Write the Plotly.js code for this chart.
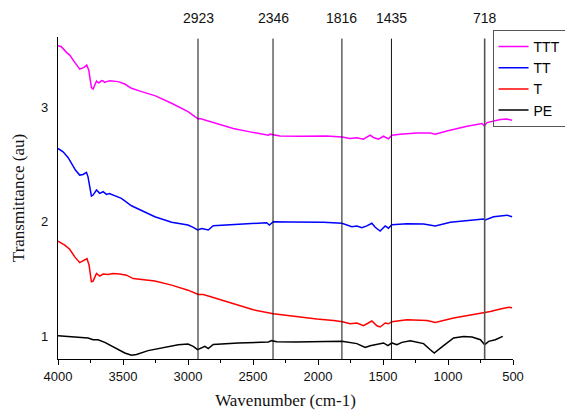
<!DOCTYPE html>
<html>
<head>
<meta charset="utf-8">
<script src="https://cdn.plot.ly/plotly-3.0.1.min.js"></script>
<style>html,body{margin:0;padding:0;background:#fff;}#chart{width:565px;height:410px;}</style>
</head>
<body>
<div id="chart"></div>
<script>
// Wavenumber (cm-1) and transmittance (au)
const wnTTT = [4000,3974,3935,3910,3871,3833,3800,3779,3763,3743,3730,3704,3690,3679,3665,3653,3640,3627,3600,3589,3538,3486,3435,3357,3255,3126,3000,2947,2921,2908,2883,2831,2652,2523,2382,2369,2344,2292,2138,1932,1816,1753,1701,1650,1599,1573,1535,1496,1458,1432,1368,1239,1136,1098,1008,854,738,720,700,597,546,507];
const TTT = [3.534,3.525,3.476,3.452,3.389,3.330,3.345,3.365,3.32,3.169,3.157,3.226,3.21,3.215,3.23,3.226,3.214,3.221,3.228,3.226,3.221,3.2,3.163,3.134,3.099,3.032,2.96,2.916,2.896,2.899,2.890,2.87,2.812,2.783,2.754,2.763,2.760,2.748,2.745,2.748,2.739,2.725,2.731,2.719,2.754,2.734,2.719,2.745,2.722,2.754,2.763,2.774,2.774,2.763,2.791,2.832,2.856,2.835,2.864,2.89,2.896,2.884];

const wnTT = [4000,3961,3923,3897,3866,3833,3807,3781,3769,3743,3730,3704,3679,3653,3640,3627,3605,3589,3550,3512,3435,3357,3255,3126,3000,2960,2926,2895,2870,2844,2806,2600,2395,2374,2344,2215,1958,1816,1740,1701,1663,1624,1586,1560,1522,1483,1458,1432,1316,1188,1098,982,854,726,713,649,546,507];
const TT = [2.638,2.609,2.56,2.508,2.45,2.406,2.412,2.43,2.391,2.223,2.232,2.276,2.247,2.261,2.245,2.238,2.245,2.238,2.223,2.203,2.139,2.096,2.043,1.995,1.971,1.951,1.928,1.94,1.937,1.928,1.965,1.98,1.991,1.971,2.0,1.997,1.995,1.986,1.957,1.963,1.948,1.963,1.986,1.951,1.919,1.963,1.943,1.974,1.983,1.98,1.963,1.995,2.009,2.023,2.015,2.043,2.057,2.043];

const wnT = [4000,3948,3910,3871,3833,3794,3777,3761,3743,3730,3704,3679,3653,3615,3576,3525,3473,3422,3357,3255,3126,3000,2921,2883,2831,2652,2498,2344,2190,2009,1881,1812,1753,1701,1650,1586,1547,1522,1483,1458,1432,1316,1162,1098,957,803,726,674,597,533,507];
const T = [1.83,1.795,1.76,1.693,1.643,1.664,1.678,1.621,1.476,1.482,1.548,1.525,1.543,1.539,1.548,1.543,1.534,1.504,1.496,1.482,1.447,1.403,1.365,1.365,1.348,1.282,1.232,1.197,1.174,1.151,1.139,1.128,1.11,1.117,1.093,1.134,1.093,1.082,1.117,1.11,1.128,1.145,1.139,1.122,1.16,1.189,1.203,1.217,1.238,1.255,1.25];

const wnPE = [4000,3897,3769,3730,3692,3640,3563,3486,3435,3396,3307,3203,3075,3000,2960,2926,2895,2870,2844,2806,2613,2382,2356,2318,2177,1816,1701,1637,1599,1522,1496,1462,1432,1393,1354,1290,1188,1136,1106,1034,957,880,815,751,718,687,636,579];
const PE = [1.006,0.995,0.986,0.971,0.971,0.948,0.899,0.855,0.835,0.843,0.876,0.899,0.928,0.934,0.913,0.884,0.904,0.913,0.893,0.93,0.943,0.951,0.963,0.954,0.951,0.957,0.937,0.904,0.919,0.937,0.943,0.919,0.943,0.928,0.948,0.963,0.937,0.884,0.855,0.919,0.986,1.0,0.995,0.971,0.928,0.957,0.971,1.0];

const peaks = [2923, 2346, 1816, 1435, 718];
const peakLabels = ["2923", "2346", "1816", "1435", "718"];
const xTicks = [4000, 3500, 3000, 2500, 2000, 1500, 1000, 500];
const yTicks = [1, 2, 3];

const series = [
  {name: "TTT", x: wnTTT, y: TTT, color: "#ff00ff"},
  {name: "TT", x: wnTT, y: TT, color: "#0000ff"},
  {name: "T", x: wnT, y: T, color: "#ff0000"},
  {name: "PE", x: wnPE, y: PE, color: "#000000"}
];

const traces = series.map(s => ({
  type: "scatter", mode: "lines", name: s.name, x: s.x, y: s.y,
  line: {color: s.color, width: 1.5}
}));

const shapes = peaks.map((p, i) => ({
  type: "line", xref: "x", yref: "paper", x0: p, x1: p, y0: 0, y1: 0.995,
  line: {color: i === 4 ? "#555" : "#111", width: i === 4 ? 1.6 : 1}
}));

const annotations = peaks.map((p, i) => ({
  xref: "x", yref: "paper", x: p, y: 1.058, text: peakLabels[i],
  showarrow: false, xanchor: "center", yanchor: "middle",
  font: {family: "Liberation Sans, Arial", size: 14, color: "#111"}
}));

const layout = {
  width: 565, height: 410,
  margin: {l: 58, r: 52, t: 37, b: 51, autoexpand: false},
  paper_bgcolor: "#fff", plot_bgcolor: "#fff",
  showlegend: true,
  legend: {
    x: 0.955, y: 1.022, xanchor: "left", yanchor: "top",
    bgcolor: "rgba(255,255,255,0)", bordercolor: "#555", borderwidth: 1,
    font: {family: "Liberation Sans, Arial", size: 14, color: "#000"},
    traceorder: "normal", itemwidth: 30
  },
  xaxis: {
    range: [4000, 500], tickvals: xTicks, ticktext: xTicks.map(String),
    showgrid: false, zeroline: false, showline: true, linecolor: "#000", linewidth: 1.2,
    ticks: "outside", ticklen: 5, tickcolor: "#000", tickwidth: 1,
    minor: {dtick: 250, tick0: 0, ticks: "outside", ticklen: 3, tickcolor: "#000", showgrid: false},
    tickfont: {family: "Liberation Sans, Arial", size: 13, color: "#111"},
    title: {text: "Wavenumber (cm-1)", standoff: 12,
      font: {family: "Liberation Serif, Times New Roman", size: 17, color: "#111"}}
  },
  yaxis: {
    range: [0.803, 3.61], tickvals: yTicks, ticktext: yTicks.map(String),
    showgrid: false, zeroline: false, showline: true, linecolor: "#000", linewidth: 1.2,
    ticks: "", ticklabelstandoff: 6,
    tickfont: {family: "Liberation Sans, Arial", size: 13, color: "#111"},
    title: {text: "Transmittance (au)", standoff: 12,
      font: {family: "Liberation Serif, Times New Roman", size: 17, color: "#111"}}
  },
  shapes: shapes,
  annotations: annotations
};

Plotly.newPlot("chart", traces, layout, {displayModeBar: false, staticPlot: true});
</script>
</body>
</html>
